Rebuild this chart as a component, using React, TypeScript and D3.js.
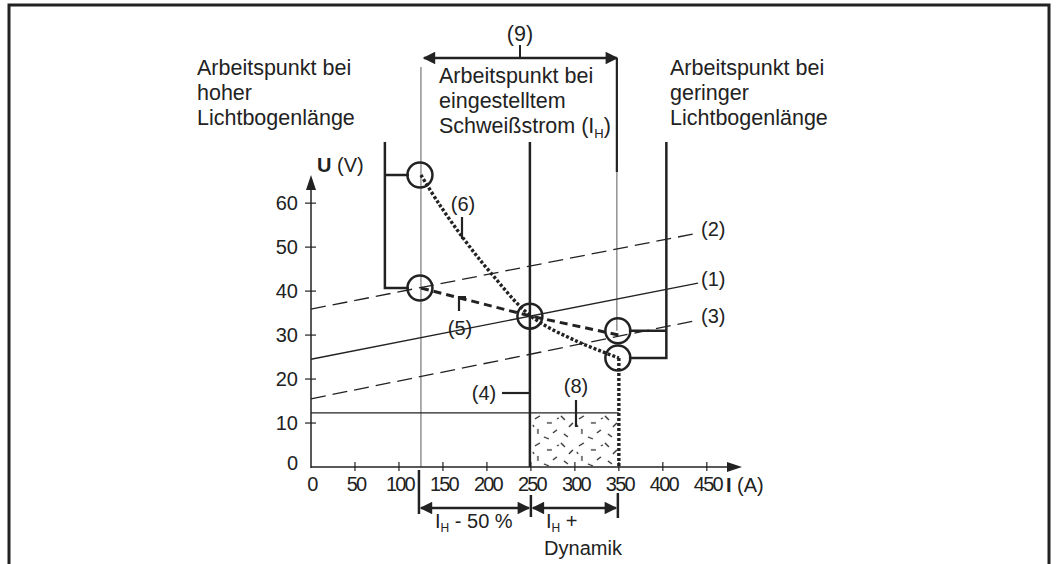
import React from 'react';
import * as d3 from 'd3';

const currentTicks = [0, 50, 100, 150, 200, 250, 300, 350, 400, 450];
const voltageTicks = [0, 10, 20, 30, 40, 50, 60];

// Kennlinien (1)-(3): U bei I=0 und am Ende der Linie
const lineLabels = ['(1)', '(2)', '(3)'];
const lineU0 = [24.5, 35.9, 15.5];
const lineUEnd = [41.8, 53.2, 33.4];
const lineDashed = [false, true, true];
const lineEndI = 440;

// (6) Kurve
const curve6I = [125, 145, 175, 205, 250, 300, 350];
const curve6U = [66.4, 60, 51.5, 44, 34.3, 28.8, 24.8];

// (5) Kurve
const curve5I = [125, 250, 350];
const curve5U = [40.7, 34.3, 30];

// Arbeitspunkte
const pointI = [125, 125, 250, 350, 350];
const pointU = [66.4, 40.7, 34.3, 31, 24.8];

const setCurrent = 250;
const lowCurrent = 125;
const highCurrent = 350;
const dynamikU = 12.3;
const bracketLeftI = 84;
const bracketRightI = 404;

const FONT = '"Liberation Sans", Arial, Helvetica, sans-serif';
const INK = '#222';

const App = () => {
  const width = 1058;
  const height = 564;

  const x = d3.scaleLinear().domain([0, 490]).range([311, 742]);
  const y = d3.scaleLinear().domain([0, 66.4]).range([467, 175]);

  const line = d3.line<[number, number]>().x(d => x(d[0])).y(d => y(d[1]));
  const smooth = d3.line<[number, number]>()
    .x(d => x(d[0]))
    .y(d => y(d[1]))
    .curve(d3.curveCatmullRom.alpha(0.5));

  const curve6 = curve6I.map((c, i) => [c, curve6U[i]] as [number, number]);
  const curve5 = curve5I.map((c, i) => [c, curve5U[i]] as [number, number]);

  const topBracket = 142;
  const x0 = x(0);
  const y0 = y(0);

  return (
    <svg width={width} height={height} style={{ position: 'absolute', left: 0, top: 0 }} fontFamily={FONT}>
      <defs>
        <marker id="ah" viewBox="0 0 10 10" refX="9" refY="5" markerWidth="6" markerHeight="5" orient="auto-start-reverse" markerUnits="strokeWidth">
          <path d="M0,0 L10,5 L0,10 z" fill={INK} />
        </marker>
        <pattern id="dyn" width="44" height="27" patternUnits="userSpaceOnUse" x={x(setCurrent)} y={y(dynamikU)}>
          <g stroke={INK} strokeWidth={1.2}>
            <line x1={4} y1={6} x2={9} y2={3} />
            <line x1={16} y1={10} x2={21} y2={10} />
            <line x1={30} y1={3} x2={34} y2={7} />
            <line x1={38} y1={14} x2={42} y2={10} />
            <line x1={7} y1={16} x2={7} y2={21} />
            <line x1={22} y1={20} x2={26} y2={17} />
            <line x1={13} y1={24} x2={18} y2={26} />
            <line x1={33} y1={21} x2={37} y2={24} />
            <line x1={2} y1={12} x2={3} y2={14} />
            <line x1={26} y1={6} x2={28} y2={5} />
          </g>
        </pattern>
      </defs>

      {/* Rahmen */}
      <path d={`M9,564 V5 H1049 V564`} fill="none" stroke={INK} strokeWidth={3} />

      {/* Überschriften */}
      <g fontSize={21.5} fill={INK}>
        <text x={197} y={75}>Arbeitspunkt bei</text>
        <text x={197} y={100}>hoher</text>
        <text x={197} y={125}>Lichtbogenlänge</text>
        <text x={439} y={83}>Arbeitspunkt bei</text>
        <text x={439} y={108}>eingestelltem</text>
        <text x={439} y={133}>
          Schweißstrom (I<tspan fontSize={13} dy={5}>H</tspan><tspan dy={-5}>)</tspan>
        </text>
        <text x={670} y={75}>Arbeitspunkt bei</text>
        <text x={670} y={100}>geringer</text>
        <text x={670} y={125}>Lichtbogenlänge</text>
        <text x={520} y={41} textAnchor="middle">(9)</text>
      </g>

      {/* (9) Pfeil */}
      <line x1={520} y1={45} x2={520} y2={58} stroke={INK} strokeWidth={2} />
      <line x1={x(lowCurrent) + 3} y1={58} x2={x(highCurrent) - 2} y2={58} stroke={INK} strokeWidth={2.5}
        markerStart="url(#ah)" markerEnd="url(#ah)" />

      {/* Hilfslinien */}
      <line x1={x(lowCurrent)} y1={67} x2={x(lowCurrent)} y2={y0} stroke="#777" strokeWidth={1.2} />
      <line x1={x(highCurrent) - 2} y1={58} x2={x(highCurrent) - 2} y2={172} stroke={INK} strokeWidth={2.2} />
      <line x1={x(highCurrent) - 2} y1={172} x2={x(highCurrent) - 2} y2={y(pointU[3])} stroke="#777" strokeWidth={1.2} />
      <line x1={x(0)} y1={y(dynamikU)} x2={x(highCurrent)} y2={y(dynamikU)} stroke={INK} strokeWidth={1.2} />
      <rect x={x(setCurrent)} y={y(dynamikU)} width={x(highCurrent) - x(setCurrent)} height={y0 - y(dynamikU)} fill="url(#dyn)" />

      {/* (4) eingestellter Strom */}
      <line x1={x(setCurrent) - 1} y1={topBracket} x2={x(setCurrent) - 1} y2={y0} stroke={INK} strokeWidth={2.5} />

      {/* Kennlinien */}
      {lineLabels.map((lab, i) => (
        <g key={lab}>
          <path d={line([[0, lineU0[i]], [lineEndI, lineUEnd[i]]]) || ''} fill="none" stroke={INK}
            strokeWidth={1.3} strokeDasharray={lineDashed[i] ? '15 7' : undefined} />
          <text x={x(lineEndI) + 3} y={y(lineUEnd[i]) + 3} fontSize={20} fill={INK}>{lab}</text>
        </g>
      ))}

      {/* (5) und (6) */}
      <path d={line(curve5) || ''} fill="none" stroke={INK} strokeWidth={3} strokeDasharray="8 5" />
      <path d={smooth(curve6) || ''} fill="none" stroke={INK} strokeWidth={3.4} strokeDasharray="3 2" />
      <line x1={x(highCurrent)} y1={y(pointU[4])} x2={x(highCurrent)} y2={y0} stroke={INK} strokeWidth={3.4} strokeDasharray="3 2" />

      {/* Klammern */}
      <path d={`M${x(bracketLeftI)},${topBracket} V${y(pointU[1])} H${x(lowCurrent) - 12} M${x(bracketLeftI)},${y(pointU[0])} H${x(lowCurrent) - 12}`}
        fill="none" stroke={INK} strokeWidth={2.5} />
      <path d={`M${x(bracketRightI)},${topBracket} V${y(pointU[4])} H${x(highCurrent) + 10} M${x(bracketRightI)},${y(pointU[3])} H${x(highCurrent) + 10}`}
        fill="none" stroke={INK} strokeWidth={2.5} />

      {/* Arbeitspunkte */}
      {pointI.map((c, i) => (
        <circle key={i} cx={x(c) - 1} cy={y(pointU[i])} r={12.5} fill="none" stroke={INK} strokeWidth={2.5} />
      ))}

      {/* Achsen */}
      <line x1={x0} y1={y0} x2={728} y2={y0} stroke={INK} strokeWidth={1.5} />
      <path d={`M742,${y0} L727,${y0 - 5} L727,${y0 + 5} z`} fill={INK} />
      <line x1={x0} y1={y0 + 1} x2={x0} y2={188} stroke={INK} strokeWidth={1.5} />
      <path d={`M${x0},175 L${x0 - 5},190 L${x0 + 5},190 z`} fill={INK} />

      {currentTicks.filter(t => t > 0).map(t => (
        <line key={t} x1={x(t)} y1={y0 - 5} x2={x(t)} y2={y0 + 4} stroke={INK} strokeWidth={1.2} />
      ))}
      {voltageTicks.filter(t => t > 0).map(t => (
        <line key={t} x1={x0 - 6} y1={y(t)} x2={x0 + 5} y2={y(t)} stroke={INK} strokeWidth={1.2} />
      ))}
      <g fontSize={20} fill={INK} letterSpacing={-1.8}>
        {currentTicks.map(t => (
          <text key={t} x={x(t) + 1} y={491} textAnchor="middle">{t}</text>
        ))}
      </g>
      <g fontSize={20} fill={INK}>
        {voltageTicks.map(t => (
          <text key={t} x={298} y={y(t) + 7 - (t === 0 ? 4 : 0)} textAnchor="end">{t}</text>
        ))}
        <text x={317} y={172}><tspan fontWeight="bold">U</tspan> (V)</text>
        <text x={726} y={492}><tspan fontWeight="bold">I</tspan> (A)</text>
      </g>

      {/* Beschriftungen */}
      <g fontSize={20} fill={INK}>
        <text x={463} y={211} textAnchor="middle">(6)</text>
        <text x={460} y={335} textAnchor="middle">(5)</text>
        <text x={484} y={400} textAnchor="middle">(4)</text>
        <text x={576} y={393} textAnchor="middle">(8)</text>
      </g>
      <g stroke={INK} strokeWidth={2.2} fill="none">
        <line x1={462} y1={217} x2={462} y2={239} />
        <path d="M459,311 V297 H466" />
        <line x1={502} y1={393} x2={x(setCurrent) - 1} y2={393} />
        <line x1={576} y1={400} x2={576} y2={427} />
      </g>

      {/* Untere Bemaßung */}
      <g stroke={INK} strokeWidth={2.5}>
        <line x1={x(lowCurrent) - 2} y1={470} x2={x(lowCurrent) - 2} y2={514} />
        <line x1={x(setCurrent)} y1={495} x2={x(setCurrent)} y2={517} />
        <line x1={x(highCurrent) - 1} y1={493} x2={x(highCurrent) - 1} y2={518} />
        <line x1={x(lowCurrent)} y1={508} x2={x(setCurrent) - 2} y2={508} markerStart="url(#ah)" markerEnd="url(#ah)" />
        <line x1={x(setCurrent) + 2} y1={508} x2={x(highCurrent) - 3} y2={508} markerStart="url(#ah)" markerEnd="url(#ah)" />
      </g>
      <g fontSize={20} fill={INK}>
        <text x={435} y={528}>I<tspan fontSize={12} dy={4}>H</tspan><tspan dy={-4}> - 50 %</tspan></text>
        <text x={546} y={528}>I<tspan fontSize={12} dy={4}>H</tspan><tspan dy={-4}> +</tspan></text>
        <text x={583} y={555} textAnchor="middle">Dynamik</text>
      </g>
    </svg>
  );
};

export default App;
